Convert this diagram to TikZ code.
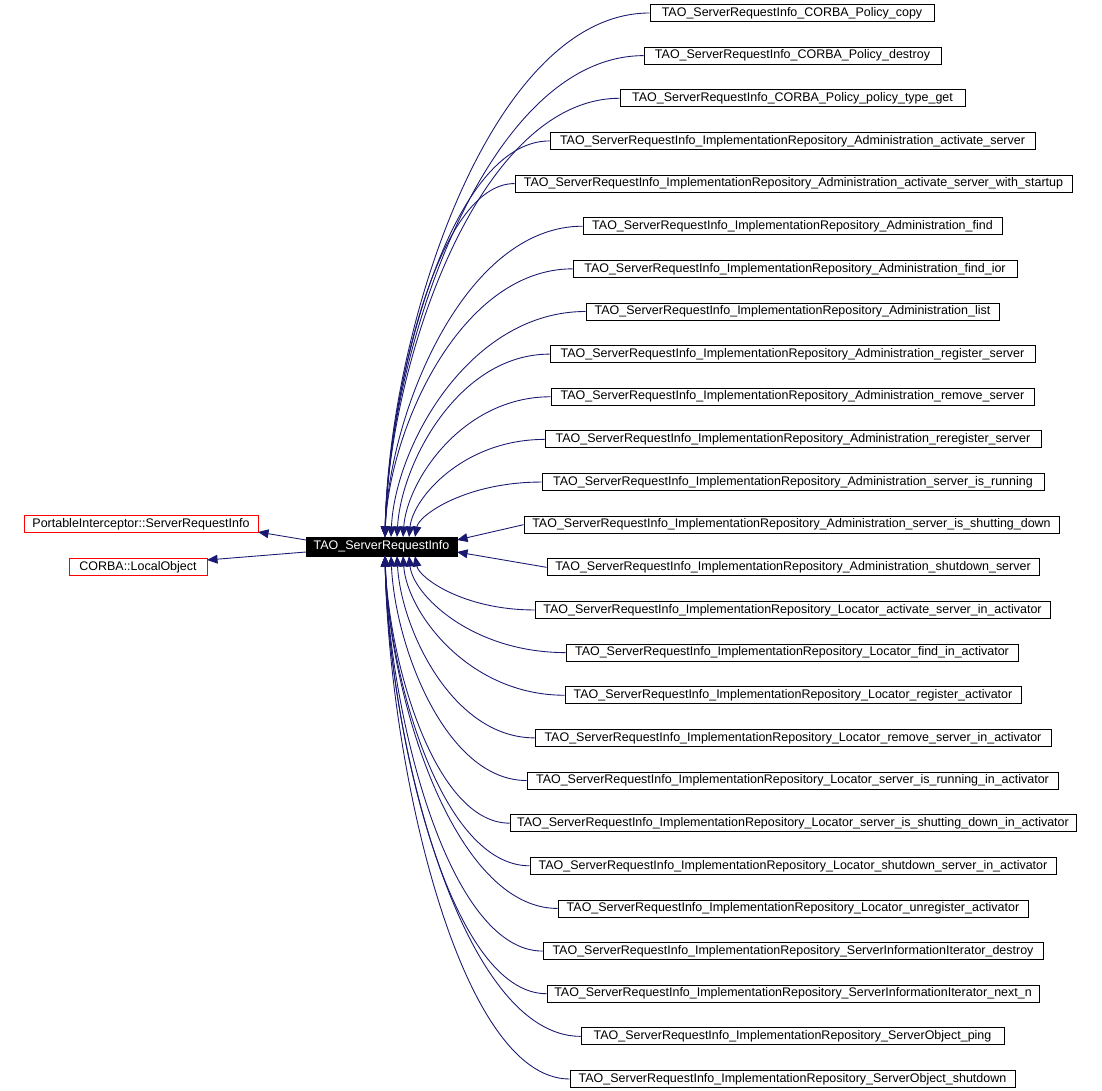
\documentclass[tikz,border=0pt]{standalone}
\usepackage{fontspec}
\setmainfont{Liberation Sans}
\usetikzlibrary{arrows.meta,calc}
\definecolor{edgecol}{HTML}{191970}
\begin{document}
\begin{tikzpicture}[x=0.02cm,y=-0.02cm,
  box/.style={draw=black,line width=0.5pt,font=\fontsize{7.1}{8}\selectfont,inner sep=0pt,minimum height=0.34cm,anchor=center},
  redbox/.style={box,draw=red},
  edge/.style={draw=edgecol,line width=0.5pt,-{Triangle[length=6pt,width=5pt]}},
]
\useasboundingbox (0,0) rectangle (1102,1091);
\node[box,fill=black,text=white,minimum width=151*0.02cm,minimum height=0.38cm] (c) at (381.5,546.5) {TAO\_ServerRequestInfo};
\node[redbox,minimum width=234*0.02cm] (p) at (141,524) {PortableInterceptor::ServerRequestInfo};
\node[redbox,minimum width=138*0.02cm] (l) at (138,567) {CORBA::LocalObject};
\coordinate (pa) at (306,540);
\coordinate (pb) at (258,532);
\coordinate (la) at (306,552);
\coordinate (lb) at (207,560);
\draw[edge] (pa) -- (pb);
\draw[edge] (la) -- (lb);
\foreach \i/\a/\b/\t in {
1/650/934/CORBA\_Policy\_copy,
2/644/941/CORBA\_Policy\_destroy,
3/620/965/CORBA\_Policy\_policy\_type\_get,
4/550/1035/ImplementationRepository\_Administration\_activate\_server,
5/515/1072/ImplementationRepository\_Administration\_activate\_server\_with\_startup,
6/583/1002/ImplementationRepository\_Administration\_find,
7/573/1017/ImplementationRepository\_Administration\_find\_ior,
8/586/999/ImplementationRepository\_Administration\_list,
9/550/1035/ImplementationRepository\_Administration\_register\_server,
10/551/1034/ImplementationRepository\_Administration\_remove\_server,
11/545/1041/ImplementationRepository\_Administration\_reregister\_server,
12/542/1044/ImplementationRepository\_Administration\_server\_is\_running,
13/524/1059/ImplementationRepository\_Administration\_server\_is\_shutting\_down,
14/547/1039/ImplementationRepository\_Administration\_shutdown\_server,
15/535/1050/ImplementationRepository\_Locator\_activate\_server\_in\_activator,
16/566/1018/ImplementationRepository\_Locator\_find\_in\_activator,
17/565/1021/ImplementationRepository\_Locator\_register\_activator,
18/535/1051/ImplementationRepository\_Locator\_remove\_server\_in\_activator,
19/527/1058/ImplementationRepository\_Locator\_server\_is\_running\_in\_activator,
20/510/1076/ImplementationRepository\_Locator\_server\_is\_shutting\_down\_in\_activator,
21/530/1056/ImplementationRepository\_Locator\_shutdown\_server\_in\_activator,
22/558/1028/ImplementationRepository\_Locator\_unregister\_activator,
23/543/1043/ImplementationRepository\_ServerInformationIterator\_destroy,
24/547/1039/ImplementationRepository\_ServerInformationIterator\_next\_n,
25/581/1004/ImplementationRepository\_ServerObject\_ping,
26/570/1015/ImplementationRepository\_ServerObject\_shutdown}{
  \pgfmathsetmacro{\y}{13+(\i-1)*42.64}
  \pgfmathsetmacro{\w}{(\b-\a)*0.02}
  \node[box,minimum width=\w cm] (r\i) at ({(\a+\b)/2},\y) {TAO\_ServerRequestInfo\_\t};
  \ifnum\i<13
    \pgfmathsetmacro{\tx}{385+max(0,\i-7)*6}
    \pgfmathsetmacro{\ca}{\a-0.6*(\a-\tx)}
    \pgfmathsetmacro{\cb}{\y+0.6*(537-\y)}
    \draw[edge] (r\i.west) .. controls (\ca,\y) and (\tx+4,\cb) .. (\tx,537);
  \else\ifnum\i<15
    \pgfmathsetmacro{\ty}{540+(\i-13)*12}
    \draw[edge] (r\i.west) -- (457,\ty);
  \else
    \pgfmathsetmacro{\tx}{385+max(0,20-\i)*6}
    \pgfmathsetmacro{\ca}{\a-0.6*(\a-\tx)}
    \pgfmathsetmacro{\cb}{\y-0.6*(\y-556)}
    \draw[edge] (r\i.west) .. controls (\ca,\y) and (\tx+4,\cb) .. (\tx,556);
  \fi\fi
}
\end{tikzpicture}
\end{document}
